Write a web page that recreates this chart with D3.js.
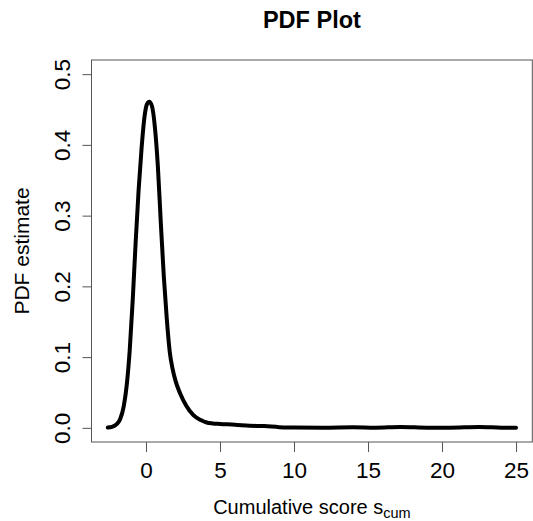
<!DOCTYPE html>
<html><head><meta charset="utf-8">
<script src="https://cdn.jsdelivr.net/npm/d3@7"></script>
<style>body{margin:0;background:#fff}svg{display:block}text{font-family:"Liberation Sans",Arial,sans-serif}</style>
</head><body>
<svg id="c" width="533" height="521"></svg>
<script>
const xs = [-2.58,-2.3,-2.0,-1.75,-1.5,-1.3,-1.1,-0.9,-0.7,-0.5,-0.3,-0.1,0.05,0.22,0.4,0.6,0.8,1.0,1.2,1.4,1.6,1.8,2.0,2.3,2.7,3.2,3.7,4.1,4.5,5.0,6.0,7.0,8.0,9.0,10,12,14,15.5,17.2,19,20.5,22.5,24,25];
const ys = [0.0005,0.0015,0.005,0.012,0.031,0.061,0.11,0.18,0.262,0.336,0.395,0.44,0.457,0.461,0.455,0.425,0.37,0.29,0.215,0.155,0.108,0.083,0.066,0.049,0.032,0.018,0.011,0.0075,0.0062,0.0055,0.0045,0.003,0.0025,0.001,0.0006,0.0003,0.0008,0.0003,0.0012,0.0003,0.0002,0.0012,0.0003,0.0001];
const xTicks = [0,5,10,15,20,25];
const yTicks = [0,0.1,0.2,0.3,0.4,0.5];
const title = "PDF Plot";
const yTitle = "PDF estimate";

const svg = d3.select("#c");
const L=91.5, R=532.3, T=60, B=442;
const x = d3.scaleLinear().domain([-3.683, 26.1]).range([L, R]);
const y = d3.scaleLinear().domain([-0.02, 0.52]).range([B, T]);
const grey = "#555";

svg.append("rect").attr("x",L).attr("y",T).attr("width",R-L).attr("height",B-T)
  .attr("fill","none").attr("stroke",grey).attr("stroke-width",1);

const xa = svg.append("g").attr("transform",`translate(0,${B})`)
  .call(d3.axisBottom(x).tickValues(xTicks).tickSize(10).tickPadding(10).tickFormat(d3.format("d")));
xa.select(".domain").remove();
xa.selectAll("line").attr("stroke",grey);
xa.selectAll("text").attr("font-size","22.5px").attr("fill","#000").attr("dy",null)
  .attr("y",35.5);

const ya = svg.append("g").attr("transform",`translate(${L},0)`)
  .call(d3.axisLeft(y).tickValues(yTicks).tickSize(9).tickFormat(d3.format(".1f")));
ya.select(".domain").remove();
ya.selectAll("line").attr("stroke",grey);
ya.selectAll("text").attr("font-size","22.5px").attr("fill","#000")
  .attr("x",null).attr("dy",null).attr("text-anchor","middle")
  .attr("transform","translate(-21.7,0) rotate(-90)").attr("y",0);

const data = xs.map((v,i)=>[v, ys[i]]);
svg.append("path").datum(data)
  .attr("d", d3.line().x(d=>x(d[0])).y(d=>y(d[1])).curve(d3.curveMonotoneX))
  .attr("fill","none").attr("stroke","#000").attr("stroke-width",4)
  .attr("stroke-linejoin","round").attr("stroke-linecap","round");

svg.append("text").attr("x",(L+R)/2).attr("y",28.3).attr("text-anchor","middle")
  .attr("font-size","23.5px").attr("font-weight","bold").text(title);

const xt = svg.append("text").attr("x",(L+R)/2).attr("y",514).attr("text-anchor","middle")
  .attr("font-size","20px");
xt.append("tspan").text("Cumulative score s");
xt.append("tspan").attr("font-size","14.5px").attr("dy",4).text("cum");

svg.append("text").attr("transform",`translate(28.5,${(T+B)/2}) rotate(-90)`)
  .attr("text-anchor","middle").attr("font-size","21px").text(yTitle);
</script>
</body></html>
